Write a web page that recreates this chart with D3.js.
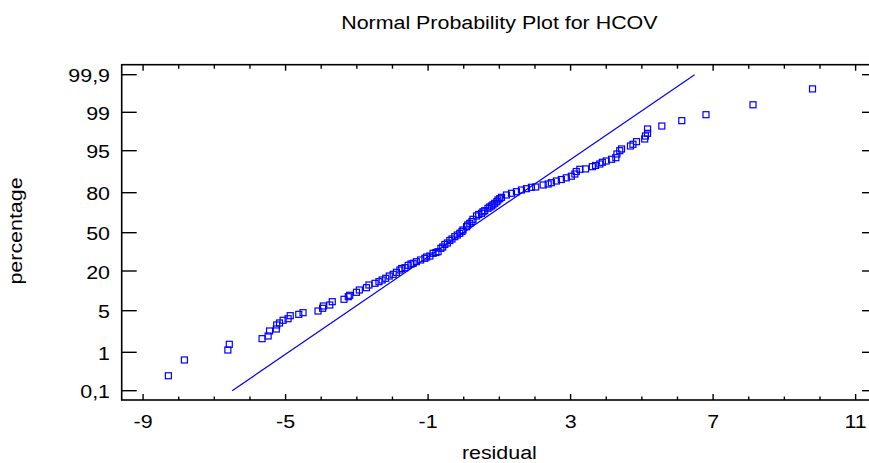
<!DOCTYPE html>
<html><head><meta charset="utf-8">
<script src="https://cdn.jsdelivr.net/npm/d3@7"></script>
<style>
body{margin:0;background:#fff}
svg{display:block}
text{font-family:"Liberation Sans",Arial,Helvetica,sans-serif;fill:#000}
</style>
</head><body>
<svg id="c" width="869" height="463"></svg>
<script>
// ---------- data ----------
const chartTitle = "Normal Probability Plot for HCOV";
const xTitle = "residual";
const yTitle = "percentage";
const xTickLabels = [-9, -5, -1, 3, 7, 11];
const xMinorTicks = [-9,-8,-7,-6,-5,-4,-3,-2,-1,0,1,2,3,4,5,6,7,8,9,10,11];
const yTicks = [0.1, 1, 5, 20, 50, 80, 95, 99, 99.9];

const residuals = [
  -8.29,-7.84,-6.62,-6.58,-5.66,-5.49,-5.45,-5.26,-5.25,-5.17,
  -5.07,-4.93,-4.87,-4.63,-4.51,-4.09,-3.96,-3.94,-3.76,-3.69,
  -3.36,-3.24,-3.20,-3.01,-2.93,-2.73,-2.66,-2.49,-2.38,-2.29,
  -2.19,-2.09,-1.98,-1.89,-1.79,-1.74,-1.65,-1.56,-1.48,-1.42,
  -1.33,-1.21,-1.09,-1.04,-0.95,-0.86,-0.78,-0.72,-0.64,-0.59,
  -0.53,-0.46,-0.39,-0.33,-0.25,-0.18,-0.11,-0.05,-0.02,0.08,
  0.11,0.17,0.23,0.26,0.36,0.42,0.50,0.54,0.59,0.68,
  0.73,0.78,0.82,0.87,0.93,0.96,1.01,1.06,1.20,1.34,
  1.48,1.62,1.76,1.90,2.02,2.23,2.37,2.46,2.60,2.74,
  2.88,3.02,3.12,3.16,3.26,3.42,3.61,3.70,3.82,3.89,
  4.00,4.15,4.27,4.30,4.38,4.43,4.68,4.75,4.85,5.08,
  5.10,5.16,5.16,5.56,6.12,6.80,8.12,9.79
];
const percentages = [
  0.45,0.82,1.22,1.77,2.31,2.57,3.05,3.24,3.63,3.82,
  4.08,4.23,4.52,4.65,4.81,4.97,5.91,6.78,7.15,8.40,
  9.31,10.29,10.82,11.95,12.82,13.69,14.71,15.35,15.96,16.60,
  17.24,18.11,18.75,19.51,20.78,21.96,22.58,24.46,25.48,26.03,
  27.28,28.62,29.95,30.97,31.75,33.86,34.49,35.12,37.78,38.80,
  40.76,41.93,43.89,45.07,46.87,48.20,49.53,50.90,52.03,54.50,
  55.78,57.05,58.40,60.05,62.53,63.65,64.55,65.68,66.50,68.30,
  69.28,70.03,70.93,72.05,73.25,74.53,75.50,76.55,78.28,79.55,
  80.36,80.96,81.43,81.93,82.04,82.75,83.11,83.57,84.18,84.71,
  85.32,85.89,86.68,87.57,88.36,88.50,89.29,89.71,90.25,90.86,
  91.32,91.93,92.50,93.82,95.00,95.18,95.49,95.67,95.94,96.22,
  96.53,96.81,97.26,97.57,98.13,98.75,99.18,99.56
];
const fitResidual = [-6.50, 6.48];
const fitPercent = [0.1, 99.9];

// ---------- layout ----------
const W = 869, H = 463;
const plot = {left: 121.7, right: 877, top: 64.7, bottom: 400};
const xDomain = [-9.6, 11.6];
// vertical offsets (from plot top) of the probability-axis ticks
const yTickOffsets = [326, 287.6, 246, 206.3, 168, 128, 86, 47.6, 10];
const blue = "#0000ff";
const fontSize = 18, stretch = 1.19;

const svg = d3.select("#c");
svg.append("rect").attr("width", W).attr("height", H).attr("fill", "#fff");

const x = d3.scaleLinear().domain(xDomain).range([plot.left, plot.right]);
const y = d3.scaleLinear().domain(yTicks).range(yTickOffsets.map(o => plot.top + o));

const locale = d3.formatLocale({decimal: ",", thousands: ".", grouping: [3], currency: ["", ""]});
const fmt = locale.format("~g");

function label(px, py, txt, anchor, rotate) {
  const g = svg.append("g").attr("transform", `translate(${px},${py})` + (rotate ? ` rotate(${rotate})` : ""));
  g.append("text").attr("transform", `scale(${stretch},1)`)
    .attr("text-anchor", anchor).attr("font-size", fontSize).text(txt);
}

// frame
svg.append("rect")
  .attr("x", plot.left).attr("y", plot.top)
  .attr("width", plot.right - plot.left).attr("height", plot.bottom - plot.top)
  .attr("fill", "none").attr("stroke", "#000").attr("stroke-width", 1.6);

// x ticks (bottom and top, inward)
const isMajor = v => xTickLabels.includes(v);
const xt = svg.append("g").attr("stroke", "#000").attr("stroke-width", 1.4);
xMinorTicks.forEach(v => {
  const px = x(v);
  const lenB = isMajor(v) ? 6 : 3.5;
  const lenT = isMajor(v) ? 6 : 4;
  xt.append("line").attr("x1", px).attr("x2", px).attr("y1", plot.bottom).attr("y2", plot.bottom - lenB);
  xt.append("line").attr("x1", px).attr("x2", px).attr("y1", plot.top).attr("y2", plot.top + lenT);
});
xTickLabels.forEach(v => label(x(v), 428, String(v).replace("-", "-"), "middle"));

// y ticks (left and right, inward)
const yt = svg.append("g").attr("stroke", "#000").attr("stroke-width", 1.4);
yTicks.forEach(v => {
  const py = y(v);
  yt.append("line").attr("x1", plot.left).attr("x2", plot.left + 15).attr("y1", py).attr("y2", py);
  yt.append("line").attr("x1", plot.right).attr("x2", plot.right - 15).attr("y1", py).attr("y2", py);
  label(110, py + 7.6, fmt(v), "end");
});

// fitted line
svg.append("line")
  .attr("x1", x(fitResidual[0])).attr("y1", y(fitPercent[0]))
  .attr("x2", x(fitResidual[1])).attr("y2", y(fitPercent[1]))
  .attr("stroke", blue).attr("stroke-width", 1.2);

// points
const pts = residuals.map((r, i) => ({r, p: percentages[i]}));
svg.append("g").selectAll("rect").data(pts).join("rect")
  .attr("x", d => x(d.r) - 3).attr("y", d => y(d.p) - 3)
  .attr("width", 6).attr("height", 6)
  .attr("fill", "none").attr("stroke", blue).attr("stroke-width", 1.2);

// titles
label((plot.left + plot.right) / 2, 28.5, chartTitle, "middle");
label((plot.left + plot.right) / 2, 459, xTitle, "middle");
label(21.5, 231, yTitle, "middle", -90);
</script>
</body></html>
